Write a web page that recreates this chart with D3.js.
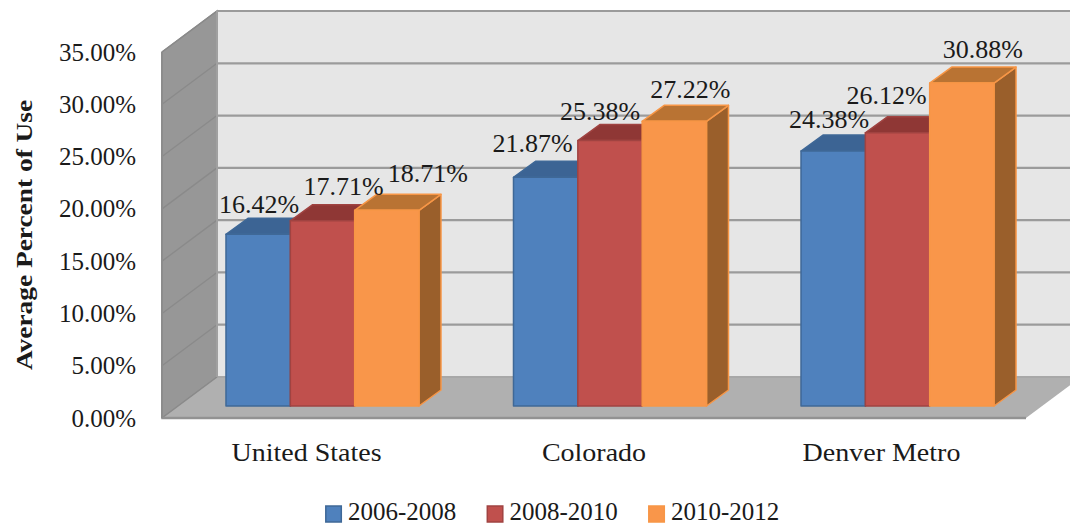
<!DOCTYPE html>
<html><head><meta charset="utf-8">
<script src="https://cdn.jsdelivr.net/npm/d3@7"></script>
<style>html,body{margin:0;padding:0;background:#fff;overflow:hidden}svg{display:block}
text{font-family:"Liberation Serif",serif;fill:#1a1a1a}</style></head>
<body><svg id="c" width="1070" height="525"></svg>
<script>
const categories = ["United States","Colorado","Denver Metro"];
const seriesNames = ["2006-2008","2008-2010","2010-2012"];
const values2006 = [16.42,21.87,24.38];
const values2008 = [17.71,25.38,26.12];
const values2010 = [18.71,27.22,30.88];
const seriesValues = [values2006,values2008,values2010];
const tickValues = [0,5,10,15,20,25,30,35];
const fronts = ["#4f81bd","#c0504d","#f9964a"];
const tops = ["#3c6494","#8f3735","#b97333"];
const sides = ["#335680","#7c302e","#9a5f2b"];
const strokes = ["#3f6897","#a04341","#f79646"];
// hand placement of the data labels, [dx from bar centre, dy above bar top]
const labelNudge = [[[1,21],[21,26],[41,28]],[[-13,25],[-10,21],[16,23]],[[-4,23],[-11,29],[21,25]]];

const svg = d3.select("#c");
const depth = {x:55,y:-41};
const barDepth = {x:22,y:-16};
const yFront = d3.scaleLinear().domain([0,35]).range([418,52]);
const yBack = d3.scaleLinear().domain([0,35]).range([377,11]);
const yBar = d3.scaleLinear().domain([0,35]).range([406,40]);
const x0 = d3.scaleBand().domain(categories).range([178.75,1041.25]).paddingInner(0.3287).paddingOuter(0.1643);
const x1 = d3.scaleBand().domain(seriesNames).range([0,x0.bandwidth()]);
const frontL=162, frontR=1026, backL=frontL+depth.x, backR=frontR+depth.x;
const poly = pts => pts.map(p=>p.join(",")).join(" ");
// the reference face is wider than any installed serif: stretch glyphs to its width
const widen = (sel,k) => sel.each(function(){
  this.setAttribute("textLength",this.getComputedTextLength()*k);
  this.setAttribute("lengthAdjust","spacingAndGlyphs");
});

// walls
svg.append("polygon").attr("points",poly([[backL,yBack(35)],[backR,yBack(35)],[backR,yBack(0)],[backL,yBack(0)]])).attr("fill","#e6e6e6");
svg.append("polygon").attr("points",poly([[frontL,yFront(35)],[backL,yBack(35)],[backL,yBack(0)],[frontL,yFront(0)]]))
  .attr("fill","#979797").attr("stroke","#8c8c8c").attr("stroke-width",1.5);
svg.append("polygon").attr("points",poly([[frontL,yFront(0)],[backL,yBack(0)],[backR,yBack(0)],[frontR,yFront(0)]])).attr("fill","#b0b0b0");
// grid
svg.append("g").selectAll("line").data(tickValues).join("line")
  .attr("x1",backL).attr("x2",backR).attr("y1",d=>yBack(d)).attr("y2",d=>yBack(d))
  .attr("stroke",d=>d===0?"#a8a8a8":"#9b9b9b").attr("stroke-width",2.2);
svg.append("g").selectAll("line").data(tickValues).join("line")
  .attr("x1",frontL).attr("x2",backL).attr("y1",d=>yFront(d)).attr("y2",d=>yBack(d))
  .attr("stroke","#8a8a8a").attr("stroke-width",1.3);
svg.append("line").attr("x1",backL).attr("x2",backL).attr("y1",yBack(35)).attr("y2",yBack(0)).attr("stroke","#a0a0a0").attr("stroke-width",2);
svg.append("line").attr("x1",frontL).attr("x2",frontR).attr("y1",yFront(0)).attr("y2",yFront(0)).attr("stroke","#929292").attr("stroke-width",2.5);
svg.append("line").attr("x1",frontL).attr("x2",frontL).attr("y1",yFront(35)).attr("y2",yFront(0)).attr("stroke","#8c8c8c").attr("stroke-width",2);

// bars
categories.forEach((cat,ci)=>{
  seriesNames.forEach((s,si)=>{
    const v = seriesValues[si][ci];
    const l = x0(cat)+x1(s), r = l+x1.bandwidth(), t = yBar(v), b = yBar(0);
    const g = svg.append("g").attr("stroke",strokes[si]).attr("stroke-width",1.5).attr("stroke-linejoin","round");
    g.append("polygon").attr("points",poly([[r,t],[r+barDepth.x,t+barDepth.y],[r+barDepth.x,b+barDepth.y],[r,b]])).attr("fill",sides[si]);
    g.append("polygon").attr("points",poly([[l,t],[l+barDepth.x,t+barDepth.y],[r+barDepth.x,t+barDepth.y],[r,t]])).attr("fill",tops[si]);
    g.append("rect").attr("x",l).attr("y",t).attr("width",r-l).attr("height",b-t).attr("fill",fronts[si]);
  });
});
// data labels
categories.forEach((cat,ci)=>{
  seriesNames.forEach((s,si)=>{
    const v = seriesValues[si][ci], n = labelNudge[ci][si];
    svg.append("text").attr("x",x0(cat)+x1(s)+x1.bandwidth()/2+n[0]).attr("y",yBar(v)-n[1])
      .attr("text-anchor","middle").attr("font-size",26).text(v.toFixed(2)+"%");
  });
});
// y axis
const yAxis = d3.axisLeft(yFront).tickValues(tickValues).tickFormat(d=>d.toFixed(2)+"%").tickSize(0).tickPadding(0);
const ya = svg.append("g").attr("transform","translate(136,0)").call(yAxis);
ya.select(".domain").remove();
ya.selectAll("text").attr("font-size",25).attr("font-family",'"Liberation Serif",serif').attr("dy",".32em");
// axis title
svg.append("text").attr("transform","translate(32,235) rotate(-90)").attr("text-anchor","middle")
  .attr("font-size",23).attr("font-weight","bold").text("Average Percent of Use").call(widen,1.19);
// x labels
const xa = svg.append("g").attr("transform","translate(-16,0)");
xa.selectAll("text").data(categories).join("text")
  .attr("x",d=>x0(d)+x0.bandwidth()/2).attr("y",461).attr("text-anchor","middle").attr("font-size",25).text(d=>d).call(widen,1.12);
// legend
const legendX = d3.scalePoint().domain(seriesNames).range([325,648]);
const lg = svg.append("g").selectAll("g").data(seriesNames).join("g").attr("transform",d=>`translate(${legendX(d)},0)`);
lg.append("rect").attr("x",0.8).attr("y",506).attr("width",15.5).attr("height",16).attr("fill",(d,i)=>fronts[i]).attr("stroke",(d,i)=>strokes[i]).attr("stroke-width",1.5);
lg.append("text").attr("x",23).attr("y",519.5).attr("font-size",25).text(d=>d);
</script></body></html>
